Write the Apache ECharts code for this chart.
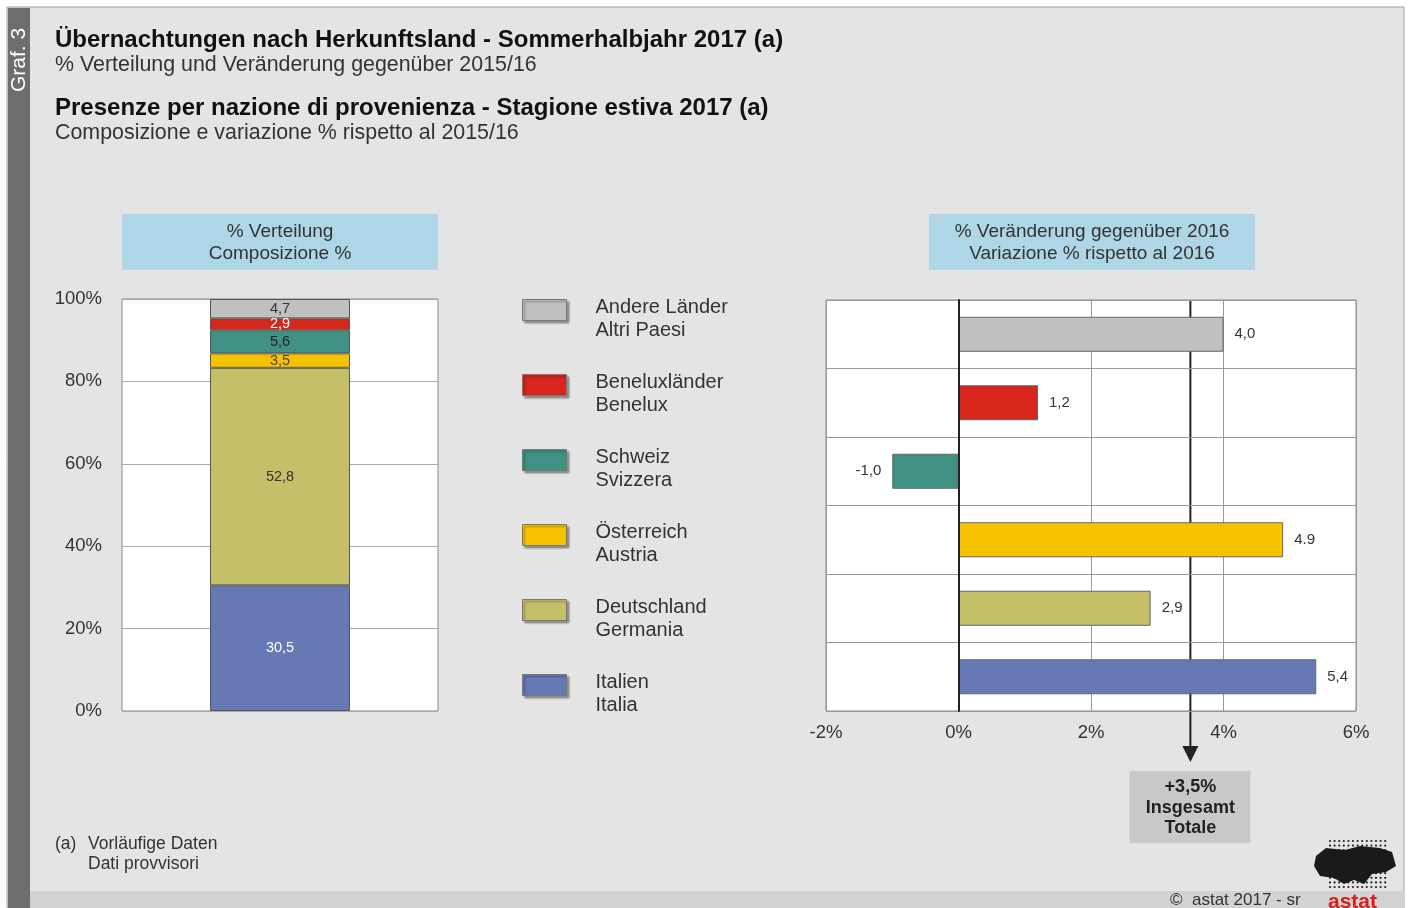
<!DOCTYPE html>
<html>
<head>
<meta charset="utf-8">
<script src="https://cdn.jsdelivr.net/npm/echarts@6/dist/echarts.min.js"></script>
<style>
  html, body { margin: 0; padding: 0; background: #fff; }
  #chart { width: 1408px; height: 908px; }
</style>
</head>
<body>
<div id="chart"></div>
<script>
// categories, bottom-up (stack order / right axis order)
const countriesDe = ["Italien", "Deutschland", "Österreich", "Schweiz", "Beneluxländer", "Andere Länder"];
const countriesIt = ["Italia", "Germania", "Austria", "Svizzera", "Benelux", "Altri Paesi"];
const colors = ["#6679b4", "#c4bf68", "#f7c300", "#3f9283", "#d9261c", "#c0c0c0"];

// % Verteilung / Composizione %
const shareValues = [30.5, 52.8, 3.5, 5.6, 2.9, 4.7];
const shareLabels = ["30,5", "52,8", "3,5", "5,6", "2,9", "4,7"];
const shareLabelColors = ["#fff", "#333", "#444", "#222", "#fff", "#333"];

// % Veränderung gegenüber 2016
const changeValues = [5.4, 2.9, 4.9, -1.0, 1.2, 4.0];
const changeLabels = ["5,4", "2,9", "4.9", "-1,0", "1,2", "4,0"];
const totalChange = 3.5;
const totalLabel = "+3,5%";

const shareTicks = [0, 20, 40, 60, 80, 100];
const changeTicks = [-2, 0, 2, 4, 6];

const FONT = '"Liberation Sans", Arial, Helvetica, sans-serif';
const INK = "#333";

const chart = echarts.init(document.getElementById("chart"));

/* ---------- left: stacked composition bar ---------- */
const shareSeries = countriesDe.map((name, i) => ({
  name: name,
  type: "bar",
  stack: "share",
  xAxisIndex: 0,
  yAxisIndex: 0,
  barWidth: 140,
  data: [shareValues[i]],
  itemStyle: { color: colors[i], borderColor: "#555", borderWidth: 1 },
  label: {
    show: true,
    position: "inside",
    formatter: () => shareLabels[i],
    color: shareLabelColors[i],
    fontSize: 14.5,
    fontFamily: FONT,
  },
  silent: true,
}));

/* ---------- right: change bars ---------- */
const changeSeries = {
  name: "change",
  type: "bar",
  xAxisIndex: 1,
  yAxisIndex: 1,
  barWidth: 35,
  data: changeValues.map((v, i) => ({
    value: v,
    itemStyle: { color: colors[i] },
    label: { position: v < 0 ? "left" : "right" },
  })),
  itemStyle: { borderColor: "#666", borderWidth: 1 },
  label: {
    show: true,
    distance: 11,
    formatter: (p) => changeLabels[p.dataIndex],
    color: INK,
    fontSize: 15,
    fontFamily: FONT,
  },
  silent: true,
  z: 3,
};

const legendOrder = countriesDe.slice().reverse();

chart.setOption({
  backgroundColor: "#fff",
  animation: false,
  textStyle: { fontFamily: FONT },
  grid: [
    { left: 122, top: 299, width: 316, height: 412, show: true, backgroundColor: "#fff", borderColor: "#888", borderWidth: 1 },
    { left: 826, top: 300, width: 530, height: 411, show: true, backgroundColor: "#fff", borderColor: "#888", borderWidth: 1 },
  ],
  xAxis: [
    {
      gridIndex: 0, type: "category", data: [""],
      axisLine: { show: false }, axisTick: { show: false }, axisLabel: { show: false },
    },
    {
      gridIndex: 1, type: "value", min: changeTicks[0], max: changeTicks[changeTicks.length - 1], interval: 2,
      axisLine: { show: false }, axisTick: { show: false },
      axisLabel: { formatter: "{value}%", fontSize: 18.5, color: INK, margin: 12, fontFamily: FONT },
      splitLine: { lineStyle: { color: "#999", width: 1 } },
    },
  ],
  yAxis: [
    {
      gridIndex: 0, type: "value", min: shareTicks[0], max: shareTicks[shareTicks.length - 1], interval: 20,
      axisLine: { show: false }, axisTick: { show: false },
      axisLabel: { formatter: "{value}%", fontSize: 18.5, color: INK, margin: 20, fontFamily: FONT },
      splitLine: { lineStyle: { color: "#aaa", width: 1 } },
    },
    {
      gridIndex: 1, type: "category", data: countriesDe,
      axisLine: { show: true, onZero: true, lineStyle: { color: "#222", width: 2 } },
      axisTick: { show: false }, axisLabel: { show: false },
      splitLine: { show: true, lineStyle: { color: "#999", width: 1 } },
      z: 5,
    },
  ],
  legend: {
    data: legendOrder.map((n) => ({ name: n, itemStyle: { color: colors[countriesDe.indexOf(n)] } })),
    orient: "vertical",
    left: 522,
    top: 286,
    padding: 0,
    itemWidth: 44,
    itemHeight: 21,
    itemGap: 20.5,
    selectedMode: false,
    icon: "rect",
    itemStyle: { borderColor: "#777", borderWidth: 1, shadowColor: "rgba(0,0,0,0.35)", shadowOffsetX: 2, shadowOffsetY: 2, shadowBlur: 2 },
    // an empty first line pushes the two-line label slightly below the swatch centre
    formatter: (n) => "{g| }\n{t|" + n + "}\n{t|" + countriesIt[countriesDe.indexOf(n)] + "}",
    textStyle: {
      color: INK, fontFamily: FONT, padding: [0, 0, 0, 24],
      rich: {
        g: { fontSize: 2, lineHeight: 18 },
        t: { fontSize: 20, lineHeight: 23, color: INK, fontFamily: FONT },
      },
    },
  },
  series: [...shareSeries, changeSeries],
});

/* ---------- decoration / text, positioned after layout ---------- */
const tx = chart.convertToPixel({ xAxisIndex: 1 }, totalChange);
const lineTop = 300, arrowTip = 762;

function text(x, y, str, size, opts) {
  return {
    type: "text", x: x, y: y, silent: true, z: 20,
    style: Object.assign({ text: str, fill: INK, font: `${size}px ${FONT}`, textVerticalAlign: "middle" }, opts || {}),
  };
}

const logoDots = [];
for (let r = 0; r < 11; r++) {
  for (let c = 0; c < 13; c++) {
    logoDots.push({ type: "circle", silent: true, z: 21, shape: { cx: 1330 + c * 4.6, cy: 841 + r * 4.6, r: 1.1 }, style: { fill: "#222" } });
  }
}

chart.setOption({
  graphic: [
    // frame
    { type: "rect", silent: true, z: -10, shape: { x: 7, y: 7, width: 1397, height: 901 }, style: { fill: "#e4e4e4", stroke: "#a0a0a0", lineWidth: 1 } },
    { type: "rect", silent: true, z: -9, shape: { x: 30, y: 891, width: 1374, height: 17 }, style: { fill: "#d2d2d2" } },
    { type: "rect", silent: true, z: -9, shape: { x: 8, y: 8, width: 22, height: 900 }, style: { fill: "#6e6e6e" } },
    {
      type: "text", x: 19, y: 60, rotation: Math.PI / 2, silent: true, z: 20,
      style: { text: "Graf. 3", fill: "#fff", font: `21px ${FONT}`, textAlign: "center", textVerticalAlign: "middle" },
    },
    // titles
    text(55, 40, "Übernachtungen nach Herkunftsland - Sommerhalbjahr 2017 (a)", 24, { font: `bold 24px ${FONT}`, fill: "#111" }),
    text(55, 65, "% Verteilung und Veränderung gegenüber 2015/16", 21.4),
    text(55, 108, "Presenze per nazione di provenienza - Stagione estiva 2017 (a)", 24, { font: `bold 24px ${FONT}`, fill: "#111" }),
    text(55, 133, "Composizione e variazione % rispetto al 2015/16", 21.4),
    // panel headers
    { type: "rect", silent: true, shape: { x: 122, y: 214, width: 316, height: 56 }, style: { fill: "#afd6e6" } },
    text(280, 232, "% Verteilung", 19, { textAlign: "center" }),
    text(280, 254, "Composizione %", 19, { textAlign: "center" }),
    { type: "rect", silent: true, shape: { x: 929, y: 214, width: 326, height: 56 }, style: { fill: "#afd6e6" } },
    text(1092, 232, "% Veränderung gegenüber 2016", 19, { textAlign: "center" }),
    text(1092, 254, "Variazione % rispetto al 2016", 19, { textAlign: "center" }),
    // total line (behind the bars) + arrow
    { type: "line", silent: true, z: 1, shape: { x1: tx, y1: lineTop, x2: tx, y2: arrowTip - 14 }, style: { stroke: "#222", lineWidth: 2 } },
    { type: "polygon", silent: true, z: 10, shape: { points: [[tx - 8, arrowTip - 16], [tx + 8, arrowTip - 16], [tx, arrowTip]] }, style: { fill: "#222" } },
    { type: "rect", silent: true, z: 10, shape: { x: tx - 61, y: 771, width: 121, height: 72 }, style: { fill: "#c8c8c8" } },
    text(tx, 787, totalLabel, 18, { textAlign: "center", font: `bold 18px ${FONT}`, fill: "#222" }),
    text(tx, 808, "Insgesamt", 18, { textAlign: "center", font: `bold 18px ${FONT}`, fill: "#222" }),
    text(tx, 828, "Totale", 18, { textAlign: "center", font: `bold 18px ${FONT}`, fill: "#222" }),
    // footnote
    text(55, 844, "(a)", 17.5),
    text(88, 844, "Vorläufige Daten", 17.5),
    text(88, 864, "Dati provvisori", 17.5),
    // copyright + logo
    text(1170, 900, "©  astat 2017 - sr", 17),
    text(1328, 902, "astat", 21, { font: `bold 21px ${FONT}`, fill: "#d42020" }),
    {
      type: "polygon", silent: true, z: 22,
      shape: { points: [[1316, 856], [1326, 848], [1345, 850], [1360, 846], [1380, 848], [1392, 852], [1396, 866], [1386, 872], [1372, 874], [1364, 884], [1354, 880], [1344, 884], [1334, 878], [1320, 876], [1314, 866]] },
      style: { fill: "#1a1a1a" },
    },
    ...logoDots,
  ],
});

window.addEventListener("resize", () => chart.resize());
</script>
</body>
</html>
